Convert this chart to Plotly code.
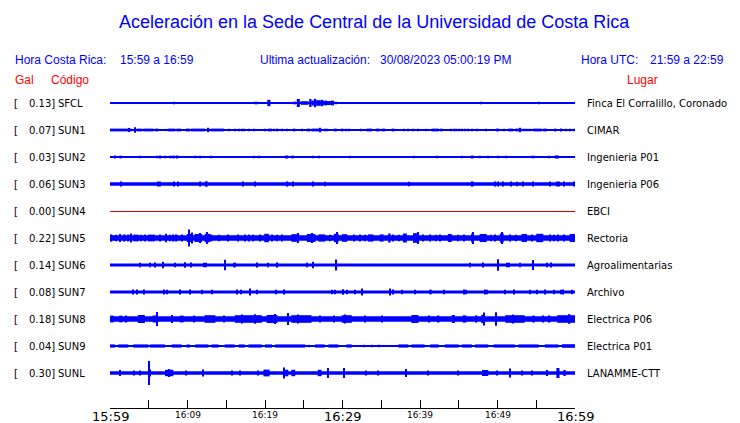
import plotly.graph_objects as go

# ---------------- data ----------------
stations = ["SFCL", "SUN1", "SUN2", "SUN3", "SUN4", "SUN5", "SUN6", "SUN7", "SUN8", "SUN9", "SUNL"]
peaks = ["0.13", "0.07", "0.03", "0.06", "0.00", "0.22", "0.14", "0.08", "0.18", "0.04", "0.30"]
places = ["Finca El Corralillo, Coronado", "CIMAR", "Ingenieria P01", "Ingenieria P06", "EBCI",
          "Rectoria", "Agroalimentarias", "Archivo", "Electrica P06", "Electrica P01", "LANAMME-CTT"]
tick_minutes = [0, 10, 20, 30, 40, 50, 60]
tick_labels = ["15:59", "16:09", "16:19", "16:29", "16:39", "16:49", "16:59"]
major_ticks = ["15:59", "16:29", "16:59"]

# background noise half-amplitude of each trace (visual units)
noise_level = [0.5, 0.6, 0.5, 1.7, 0.0, 2.7, 1.4, 1.6, 2.7, 0.5, 1.8]

# bursts: (start minute, end minute, half-amplitude)
ev_SFCL = [(0, 0.15, 1.0), (5.3, 5.45, 0.8), (6.0, 6.15, 0.8), (6.5, 6.6, 0.8), (8.2, 8.35, 1.2),
           (17.8, 18.0, 0.8), (18.6, 19.1, 1.3), (19.4, 19.5, 0.8), (20.3, 20.7, 3.2), (23.6, 24.0, 1.3),
           (24.1, 24.5, 4.0), (24.6, 25.6, 1.8), (25.7, 26.0, 4.0), (26.0, 26.3, 2.5), (26.3, 26.6, 4.2),
           (26.6, 27.2, 2.8), (27.2, 27.5, 3.2), (27.5, 28.0, 2.3), (28.0, 28.5, 2.0), (28.5, 28.9, 2.4),
           (29.0, 29.3, 1.3), (47.8, 47.95, 1.3), (55.3, 55.45, 1.3)]
ev_SUN1 = [(0, 2.8, 1.4), (2.4, 2.5, 2.0), (3.2, 3.3, 2.8), (3.44, 4.17, 1.4), (4.3, 5.6, 1.4), (5.8, 6.24, 1.4),
           (7.2, 7.4, 1.1), (7.5, 8.4, 1.4), (8.6, 9.16, 1.4), (9.8, 10.3, 1.4), (10.45, 12.26, 1.4),
           (12.5, 12.9, 1.4), (12.65, 12.75, 2.2), (13.03, 14.7, 1.4), (15.3, 15.4, 1.2), (16.05, 16.15, 1.2),
           (16.6, 16.7, 1.2), (17.0, 17.1, 1.2), (17.2, 17.3, 1.2), (17.85, 17.95, 1.2), (18.5, 18.6, 1.2),
           (19.9, 20.0, 1.2), (20.4, 20.9, 1.4), (21.1, 21.2, 1.2), (21.5, 21.7, 1.4), (22.2, 22.3, 1.2),
           (22.8, 22.9, 1.2), (23.7, 23.9, 1.4), (24.7, 24.8, 1.2), (25.4, 25.8, 1.4), (26.0, 27.3, 1.4),
           (27.0, 27.1, 2.3), (27.7, 27.8, 1.2), (27.96, 28.06, 1.2), (28.9, 29.25, 1.4), (29.9, 30.1, 1.4),
           (30.45, 30.55, 1.2), (30.75, 30.85, 1.2), (32.3, 32.4, 1.2), (33.1, 33.8, 1.4), (34.3, 34.8, 1.4),
           (35.05, 35.5, 1.4), (36.35, 36.7, 1.4), (37.85, 37.95, 1.2), (38.4, 38.5, 1.2), (39.05, 39.15, 1.2),
           (39.66, 39.76, 1.2), (40.65, 40.95, 1.2), (41.5, 42.4, 1.4), (42.6, 42.9, 1.4), (43.9, 44.0, 1.2),
           (44.3, 44.4, 1.2), (44.65, 44.75, 1.2), (45.0, 45.1, 1.2), (45.4, 45.5, 1.2), (45.7, 45.8, 1.2),
           (46.2, 46.3, 1.2), (46.7, 46.8, 1.2), (47.3, 47.4, 1.2), (48.5, 48.6, 1.2), (49.8, 50.2, 1.4),
           (50.8, 50.9, 1.2), (51.4, 52.0, 1.4), (52.3, 53.1, 1.4), (52.85, 52.95, 2.3), (53.25, 54.4, 1.2),
           (54.6, 55.7, 1.4), (55.9, 56.35, 1.4), (57.3, 57.6, 1.4), (58.1, 58.3, 1.4), (58.75, 58.9, 1.2),
           (59.3, 59.4, 1.2), (59.8, 59.9, 1.2)]
ev_SUN2 = [(0.56, 0.66, 1.4), (1.2, 1.3, 1.2), (1.42, 1.52, 1.2), (3.87, 3.97, 1.2), (6.0, 6.1, 1.2),
           (6.37, 6.58, 1.5), (7.0, 7.1, 1.3), (7.74, 7.84, 1.3), (7.96, 8.06, 1.3), (8.17, 8.39, 1.4),
           (8.52, 8.82, 1.5), (10.97, 11.07, 1.2), (11.53, 11.63, 1.2), (13.03, 13.13, 1.2), (18.5, 18.7, 1.3),
           (19.2, 19.3, 1.2), (22.58, 23.0, 1.5), (23.44, 23.7, 1.5), (26.2, 26.3, 1.3), (26.9, 27.1, 1.3),
           (30.9, 31.0, 1.2), (39.2, 39.3, 1.2), (42.1, 42.2, 1.2), (45.4, 45.5, 1.2), (46.7, 46.9, 1.5),
           (47.7, 47.8, 1.2), (48.7, 48.8, 1.3), (50.0, 50.1, 1.3), (51.0, 51.1, 1.3), (54.4, 54.5, 1.3),
           (54.6, 54.7, 1.2), (56.6, 56.7, 1.2), (57.4, 57.9, 1.6)]
ev_SUN3 = [(1.42, 1.52, 2.4), (6.1, 6.2, 2.5), (6.45, 6.55, 2.5), (8.17, 8.27, 2.4), (8.73, 8.83, 2.6),
           (11.53, 11.63, 2.5), (12.26, 12.6, 2.7), (17.07, 17.17, 2.5), (18.6, 18.7, 2.4), (22.8, 23.0, 2.6),
           (23.57, 23.67, 2.6), (26.2, 26.3, 2.6), (27.66, 27.76, 2.3), (38.5, 38.6, 2.3), (46.7, 46.9, 2.6),
           (49.6, 49.7, 2.4), (50.0, 50.1, 2.6), (50.6, 50.7, 2.5), (51.7, 51.8, 2.4), (52.5, 52.6, 2.3),
           (53.3, 53.4, 2.4), (54.5, 54.6, 2.4), (56.7, 56.8, 2.4), (57.6, 57.7, 2.6), (57.85, 57.95, 2.5),
           (58.5, 58.6, 2.4), (59.8, 59.9, 2.6)]
ev_SUN4 = []
ev_SUN5 = [(0.1, 0.3, 3.6), (0.7, 0.8, 3.3), (1.2, 1.4, 4.0), (1.8, 2.0, 3.5), (2.3, 2.5, 3.4), (2.6, 2.8, 4.5),
           (3.0, 3.7, 3.4), (4.0, 4.1, 3.3), (4.4, 4.6, 3.6), (4.9, 5.8, 3.4), (6.4, 6.5, 3.4), (7.1, 7.3, 4.2),
           (7.7, 7.8, 3.3), (8.1, 8.3, 3.5), (8.5, 8.7, 3.5), (9.2, 9.4, 3.6), (9.9, 10.6, 4.0),
           (10.2, 10.3, 8.5), (10.5, 10.6, 5.5), (10.9, 11.9, 4.0), (11.5, 11.6, 5.0), (12.2, 12.9, 4.2),
           (12.5, 12.6, 6.0), (13.0, 13.2, 3.5), (14.0, 14.1, 3.3), (15.2, 15.3, 3.4), (16.5, 16.6, 3.5),
           (17.3, 17.5, 3.5), (17.9, 18.0, 3.6), (18.4, 18.6, 3.4), (19.3, 19.4, 3.5), (19.9, 20.5, 4.2),
           (20.8, 20.9, 3.5), (21.5, 21.6, 3.3), (22.1, 22.2, 3.4), (23.4, 24.4, 3.8), (24.2, 24.3, 5.0),
           (25.4, 26.5, 4.0), (26.0, 26.1, 5.0), (26.9, 27.8, 3.6), (28.3, 28.4, 3.3), (28.9, 29.5, 4.2),
           (29.2, 29.3, 6.0), (29.9, 30.6, 3.8), (31.4, 31.5, 3.5), (32.2, 32.3, 3.5), (32.8, 32.9, 3.3),
           (33.3, 34.0, 3.6), (34.8, 35.3, 3.6), (35.9, 36.2, 4.6), (36.5, 36.6, 3.5), (37.2, 37.3, 3.3),
           (37.8, 38.3, 4.5), (39.1, 39.8, 4.8), (39.7, 39.8, 6.0), (40.4, 40.5, 3.6), (41.3, 41.4, 3.5),
           (42.0, 42.1, 3.3), (42.5, 42.6, 3.4), (43.6, 44.1, 4.0), (44.8, 44.9, 3.3), (45.6, 45.7, 3.5),
           (46.6, 46.9, 4.5), (46.8, 46.9, 6.0), (47.7, 48.6, 4.0), (49.1, 49.2, 3.3), (49.6, 49.7, 3.5),
           (50.3, 50.8, 4.5), (50.5, 50.6, 6.0), (51.6, 51.7, 3.5), (52.4, 52.5, 3.3), (53.1, 53.8, 4.0),
           (54.4, 54.5, 3.6), (55.0, 55.9, 4.2), (56.7, 56.9, 3.6), (57.3, 57.4, 3.3), (57.8, 57.9, 3.5),
           (58.5, 58.6, 3.5), (59.3, 60.0, 4.0)]
ev_SUN6 = [(3.87, 3.97, 2.3), (5.07, 5.17, 2.3), (5.7, 5.9, 2.6), (6.75, 6.85, 3.3), (8.39, 8.49, 2.3),
           (9.68, 9.78, 2.8), (10.45, 10.55, 2.4), (12.13, 12.23, 2.2), (12.39, 12.49, 2.2), (14.75, 14.85, 5.2),
           (15.9, 16.0, 2.2), (16.1, 16.2, 2.2), (18.85, 19.05, 2.6), (20.4, 20.5, 2.2), (21.5, 21.7, 2.6),
           (25.4, 25.5, 2.2), (26.1, 26.2, 3.3), (29.1, 29.3, 5.5), (46.4, 46.5, 2.2), (48.1, 48.2, 2.6),
           (50.0, 50.1, 5.8), (51.2, 51.3, 2.3), (51.45, 51.55, 2.3), (52.9, 53.0, 2.2), (54.5, 54.6, 5.0),
           (56.35, 56.45, 2.3), (56.8, 56.9, 2.4)]
ev_SUN7 = [(2.88, 2.98, 2.4), (3.44, 3.54, 2.5), (4.3, 4.4, 2.4), (6.88, 6.98, 2.4), (7.3, 7.4, 2.3),
           (9.0, 9.1, 2.4), (10.3, 10.4, 2.4), (11.8, 11.9, 2.3), (13.1, 13.2, 2.3), (16.4, 16.5, 2.4),
           (16.8, 16.9, 2.3), (18.0, 18.1, 3.5), (18.9, 19.0, 2.3), (21.4, 21.5, 2.3), (22.4, 22.6, 2.5),
           (28.6, 28.7, 2.3), (29.0, 29.1, 2.3), (30.0, 30.1, 2.8), (30.5, 30.6, 2.3), (31.6, 31.7, 2.3),
           (32.5, 32.6, 3.5), (36.1, 36.2, 3.5), (36.5, 36.6, 2.4), (37.6, 37.7, 2.3), (39.3, 39.4, 2.3),
           (41.2, 41.5, 2.4), (43.1, 43.2, 2.3), (45.6, 45.7, 2.4), (45.9, 46.0, 2.3), (48.3, 48.4, 2.4),
           (48.6, 48.7, 2.3), (50.9, 51.0, 2.3), (52.1, 52.2, 2.6), (54.1, 54.2, 2.3), (55.0, 55.1, 2.3),
           (56.1, 56.2, 2.4), (57.2, 57.3, 2.3), (58.1, 58.2, 2.3), (58.4, 58.5, 2.4), (59.6, 59.7, 2.3)]
ev_SUN8 = [(0, 0.5, 3.4), (1.2, 1.6, 3.4), (2.0, 2.2, 3.5), (3.6, 4.5, 4.0), (5.5, 6.2, 3.5), (6.0, 6.1, 7.0),
           (7.9, 8.1, 4.0), (9.0, 9.5, 3.4), (10.8, 11.0, 3.4), (12.2, 13.6, 3.8), (14.6, 14.8, 3.5),
           (16.1, 19.6, 3.8), (17.0, 17.1, 4.5), (18.6, 18.7, 4.8), (20.2, 21.6, 4.0), (21.2, 21.3, 5.0),
           (22.9, 23.0, 6.0), (23.4, 26.0, 3.8), (24.2, 24.3, 4.5), (27.0, 27.2, 3.5), (28.8, 29.0, 3.5),
           (29.9, 31.2, 3.8), (30.3, 30.4, 4.6), (32.8, 33.0, 3.4), (35.0, 35.2, 3.4), (38.9, 39.8, 4.0),
           (41.0, 41.3, 3.5), (42.3, 42.5, 3.5), (44.1, 44.5, 4.0), (45.5, 46.0, 3.6), (47.2, 47.4, 3.6),
           (47.9, 48.4, 4.2), (48.2, 48.3, 6.5), (49.7, 49.9, 6.8), (51.0, 53.5, 3.8), (52.0, 52.1, 4.5),
           (54.5, 54.8, 3.5), (55.8, 56.0, 3.6), (56.6, 56.8, 3.6), (57.7, 60.0, 3.8), (59.2, 59.4, 4.8)]
ev_SUN9 = [(0, 0.65, 1.6), (1.07, 2.37, 1.6), (3.0, 4.95, 1.6), (5.16, 7.1, 1.6), (7.96, 9.25, 1.6),
           (9.9, 10.3, 1.6), (11.0, 12.7, 1.6), (13.1, 14.0, 1.6), (14.8, 16.1, 1.6), (16.6, 17.4, 1.6),
           (17.85, 19.6, 1.6), (20.0, 20.9, 1.6), (21.3, 25.2, 1.6), (25.6, 25.7, 1.2), (26.45, 27.7, 1.6),
           (28.17, 29.46, 1.6), (30.5, 31.2, 1.6), (32.7, 32.8, 1.2), (33.8, 33.9, 1.2), (34.6, 34.7, 1.2),
           (37.2, 38.5, 1.6), (38.9, 40.6, 1.6), (41.3, 42.4, 1.6), (43.2, 45.0, 1.6), (45.4, 46.7, 1.6),
           (47.1, 48.8, 1.6), (49.5, 52.25, 1.6), (52.7, 55.3, 1.6), (56.1, 57.85, 1.6), (58.3, 60.0, 1.8)]
ev_SUNL = [(1.29, 1.39, 3.0), (3.0, 3.1, 2.6), (3.87, 3.97, 2.6), (4.95, 5.05, 12.0), (5.1, 5.2, 3.5),
           (7.1, 8.17, 3.2), (7.6, 7.7, 4.0), (9.8, 9.9, 2.6), (11.96, 12.06, 3.5), (15.7, 15.8, 2.5),
           (16.7, 16.8, 2.5), (19.05, 19.15, 2.6), (19.8, 20.6, 3.4), (22.35, 22.55, 5.5), (22.6, 23.0, 3.3),
           (23.4, 23.9, 3.2), (26.8, 27.3, 3.2), (28.1, 28.25, 5.0), (30.2, 30.3, 5.0), (33.0, 33.1, 2.5),
           (34.5, 34.6, 2.5), (38.1, 38.3, 4.0), (40.95, 41.05, 2.5), (44.8, 44.9, 2.5), (48.0, 48.8, 3.0),
           (49.9, 50.0, 2.5), (51.5, 51.7, 4.5), (53.1, 53.2, 2.5), (54.4, 54.5, 2.5), (56.3, 56.5, 3.0),
           (57.6, 58.0, 5.0), (58.5, 58.8, 3.0)]
events = [ev_SFCL, ev_SUN1, ev_SUN2, ev_SUN3, ev_SUN4, ev_SUN5, ev_SUN6, ev_SUN7, ev_SUN8, ev_SUN9, ev_SUNL]

# ---------------- layout geometry ----------------
W, H = 740, 423
PL, PR, PT, PB = 110, 575, 90, 408       # plot area in pixels
ROW0, ROWSTEP = 103, 27                  # first trace row and spacing (pixels)
BLUE, RED = "#0000ff", "#ff0000"


def xp(px):
    return (px - PL) / (PR - PL)


def yp(py):
    return (PB - py) / (PB - PT)


fig = go.Figure()

for i, st in enumerate(stations):
    c = ROW0 + ROWSTEP * i - PT
    if noise_level[i] == 0:
        fig.add_trace(go.Scatter(x=[0, 60], y=[c + 0.5, c + 0.5], mode="lines",
                                 line=dict(color="#dd0000", width=1), hoverinfo="skip"))
        continue
    xs, ws, bs, hs = [30], [60], [c - noise_level[i]], [2 * noise_level[i]]
    for t0, t1, a in events[i]:
        xs.append((t0 + t1) / 2)
        ws.append(max(t1 - t0, 0.13))
        bs.append(c - a)
        hs.append(2 * a)
    fig.add_trace(go.Bar(x=xs, y=hs, base=bs, width=ws, marker=dict(color=BLUE, line=dict(width=0)),
                         hoverinfo="skip"))

annotations = []


def ann(text, px, py, size, color, xanchor="left", family="Liberation Sans, Arial"):
    annotations.append(dict(text=text, x=xp(px), y=yp(py), xref="paper", yref="paper",
                            xanchor=xanchor, yanchor="middle", showarrow=False,
                            borderpad=0, borderwidth=0,
                            font=dict(size=size, color=color, family=family)))


ann("Aceleración en la Sede Central de la Universidad de Costa Rica", 374, 22, 18, BLUE, "center")
ann("Hora Costa Rica:", 15, 60, 12, BLUE)
ann("15:59 a 16:59", 120, 60, 12, BLUE)
ann("Ultima actualización:", 260, 60, 12, BLUE)
ann("30/08/2023 05:00:19 PM", 380, 60, 12, BLUE)
ann("Hora UTC:", 581, 60, 12, BLUE)
ann("21:59 a 22:59", 650, 60, 12, BLUE)
ann("Gal", 15, 80, 12, RED)
ann("Código", 51, 80, 12, RED)
ann("Lugar", 627, 80, 12, RED)

DV = "DejaVu Sans"
for i, st in enumerate(stations):
    row = ROW0 + ROWSTEP * i
    ann("[", 14, row, 10, "black", "left", DV)
    ann(peaks[i] + "]", 55, row, 10, "black", "right", DV)
    ann(st, 58, row, 10, "black", "left", DV)
    ann(places[i], 587, row, 10, "black", "left", DV)

for m, lab in zip(tick_minutes, tick_labels):
    big = lab in major_ticks
    annotations.append(dict(text=lab, x=m, y=yp(416.5 if big else 415), xref="x", yref="paper",
                            xanchor="center", yanchor="middle", showarrow=False,
                            borderpad=0, borderwidth=0,
                            font=dict(size=13 if big else 9, color="black", family=DV)))

fig.update_layout(
    width=W, height=H,
    margin=dict(l=PL, r=W - PR, t=PT, b=H - PB, pad=0),
    paper_bgcolor="white", plot_bgcolor="white",
    showlegend=False, barmode="overlay",
    annotations=annotations,
    xaxis=dict(range=[0, 60], showgrid=False, zeroline=False, showline=True, linecolor="black",
               linewidth=1, ticks="inside", ticklen=8, tickcolor="black", tickwidth=1,
               tickvals=list(range(0, 61, 5)), showticklabels=False, fixedrange=True),
    yaxis=dict(range=[PB - PT, 0], visible=False, showgrid=False, zeroline=False, fixedrange=True),
)

fig.write_html("out.html", config={"displayModeBar": False},
               post_script="document.body.style.margin='0px';document.body.style.overflow='hidden';")
